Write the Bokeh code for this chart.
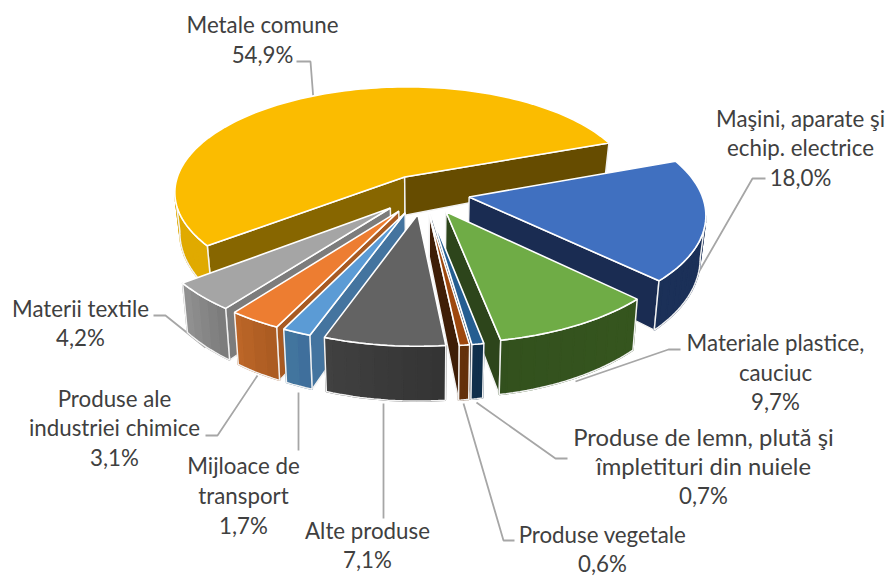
import math
from bokeh.plotting import figure
from bokeh.embed import file_html
from bokeh.resources import INLINE
from bokeh.core.properties import value

# ---- data -------------------------------------------------------------
categories = ["Metale comune", "Maşini, aparate şi\nechip. electrice", "Materiale plastice,\ncauciuc",
              "Produse de lemn, plută şi\nîmpletituri din nuiele", "Produse vegetale", "Alte produse",
              "Mijloace de\ntransport", "Produse ale\nindustriei chimice", "Materii textile"]
shares = [54.9, 18.0, 9.7, 0.7, 0.6, 7.1, 1.7, 3.1, 4.2]
share_labels = ["54,9%", "18,0%", "9,7%", "0,7%", "0,6%", "7,1%", "1,7%", "3,1%", "4,2%"]

# ---- style ------------------------------------------------------------
top_colors = ["#FBBC00", "#4070C0", "#6FAC46", "#255E91", "#9E480E", "#636363", "#5B9BD5", "#ED7D31", "#A5A5A5"]
start_face = ["#876600", "#1A2C52", "#2D451B", "#102E4A", "#3F1E07", "#3A3A3A", "#44749F", "#A85A22", "#7C7C7C"]
end_face = ["#664C00", "#1A2C52", "#2D451B", "#102E4A", "#3F1E07", "#3A3A3A", "#44749F", "#A85A22", "#7C7C7C"]
rim_a = ["#E0AA00", "#1A2C52", "#2B441A", "#0F2F4C", "#6A340C", "#343434", "#3F6F9C", "#AC5C22", "#7C7C7C"]
rim_b = ["#D8A300", "#1B3058", "#37581F", "#0F2F4C", "#5F2E0A", "#414141", "#44789F", "#BC6628", "#929292"]
explode = [0.17, 0.2, 0.2, 0.2, 0.2, 0.2, 0.2, 0.2, 0.2]
draw_order = [0, 1, 2, 3, 4, 8, 7, 6, 5]
ROT = 232.0
CX, CY, S, K, Q = 423.0, 192.0, 232.0, 0.14, 0.46
label_xy = [(262, [24, 54]), (800, [118, 147, 177]), (775, [342, 372, 401]), (703, [436, 465, 495]),
            (602, [534, 562.5]), (367, [530, 559]), (243, [465, 495, 525]), (114, [398, 427, 457]), (80, [308, 337])]
label_px = [22.3, 22.3, 22.3, 23.8, 22.3, 22.3, 22.3, 22.3, 22.3]
leaders = [[(296, 61), (310, 61), (313, 100)], [(765, 178), (752, 178), (698, 272)], [(680, 349), (668, 349), (575, 381)],
           [(476, 402), (555, 458), (567, 458)], [(463, 403), (503, 540), (514, 540)], [(383, 403), (383, 518)],
           [(298, 392), (298, 450)], [(257, 375), (217, 435), (205, 435)], [(153, 315), (165, 315), (205, 347)]]

def project(u, v):
    d = 1 - K * v
    return CX + S * u / d, CY + S * Q * v / d

def drop(u, v):
    x, y = project(u, v)
    return CX + (x - CX) * 0.98, y + 40.0 + 12.4 * v

def mix(a, b, t):
    ca = [int(a[i:i + 2], 16) for i in (1, 3, 5)]
    cb = [int(b[i:i + 2], 16) for i in (1, 3, 5)]
    return "#%02X%02X%02X" % tuple(round(p + (q - p) * t) for p, q in zip(ca, cb))

p = figure(width=888, height=576, x_range=(0, 888), y_range=(576, 0), toolbar_location=None,
           output_backend="svg", min_border=0, outline_line_color=None)
p.axis.visible = False
p.grid.visible = False

for pts in leaders:
    p.line([a for a, _ in pts], [b for _, b in pts], line_color="#A6A6A6", line_width=1.8)

# cumulative start / end angles, clockwise from the top
angles, running = [], ROT
for share in shares:
    angles.append((running, running + share * 3.6))
    running += share * 3.6

for i in draw_order:
    a0, a1 = angles[i]
    mid = math.radians((a0 + a1) / 2)
    ox, oy = explode[i] * math.sin(mid), -explode[i] * math.cos(mid)
    n = max(4, int((a1 - a0) / 1.5))
    arc = [(ox + math.sin(math.radians(a0 + (a1 - a0) * j / n)),
            oy - math.cos(math.radians(a0 + (a1 - a0) * j / n))) for j in range(n + 1)]
    apex = project(ox, oy)
    inner = project(*arc[n // 2])
    # cut faces
    for edge, col in ((arc[0], start_face[i]), (arc[-1], end_face[i])):
        b = project(*edge)
        cr1 = (b[0] - apex[0]) * (inner[1] - apex[1]) - (b[1] - apex[1]) * (inner[0] - apex[0])
        cr2 = (b[0] - apex[0])
        if cr1 * cr2 < 0:
            a2, b2 = drop(ox, oy), drop(*edge)
            p.patch([apex[0], b[0], b2[0], a2[0]], [apex[1], b[1], b2[1], a2[1]], fill_color=col,
                    line_color="#F2F2F2", line_width=1.5)
    # rim, in bands for the soft shading
    vis = [j for j in range(n) if project(*arc[j + 1])[0] < project(*arc[j])[0]]
    if vis:
        step = 2
        for k in range(0, len(vis), step):
            j0, j1 = vis[k], vis[min(k + step, len(vis) - 1)] + (1 if k + step >= len(vis) else 0)
            mx = project(*arc[j0])[0]
            t = max(0, min(1, (mx - 170) / 540.0)) if i < 5 else k / max(1, len(vis) - 1)
            col = mix(rim_a[i], rim_b[i], t)
            idx = range(j0, j1 + 1)
            q = [project(*arc[j]) for j in idx] + [drop(*arc[j]) for j in reversed(idx)]
            p.patch([a for a, _ in q], [b for _, b in q], fill_color=col, line_color=col, line_width=1.5)
        tops = [project(*arc[j]) for j in range(vis[0], vis[-1] + 2)]
        bots = [drop(*arc[j]) for j in range(vis[0], vis[-1] + 2)]
        outline = tops + bots[::-1]
        p.patch([a for a, _ in outline], [b for _, b in outline], fill_alpha=0, line_color="#F2F2F2", line_width=1.5)
    # top
    top = [apex] + [project(*a) for a in arc]
    p.patch([a for a, _ in top], [b for _, b in top], fill_color=top_colors[i], line_color="#FFFFFF", line_width=1.6)

for i, (lx, ys) in enumerate(label_xy):
    lines = categories[i].split("\n") + [share_labels[i]]
    for j, (line, y) in enumerate(zip(lines, ys)):
        size = label_px[i] if j < len(lines) - 1 else 22.3
        p.text([lx], [y], text=[line], text_font=value("Lato"), text_font_size=f"{size}px", text_color="#404040",
               text_align="center", text_baseline="middle")

open("out.html", "w").write(file_html(p, INLINE))
